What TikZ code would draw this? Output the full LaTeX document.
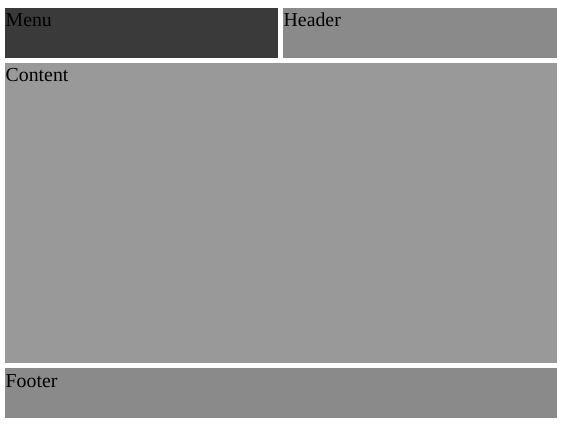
\documentclass[tikz,border=0pt]{standalone}
\usepackage{fontspec}
\setmainfont{Liberation Serif}
\usepackage{tikz}
\definecolor{menugray}{HTML}{3A3A3A}
\definecolor{headgray}{HTML}{8A8A8A}
\definecolor{bodygray}{HTML}{999999}

\begin{document}
\begin{tikzpicture}[x=1pt,y=-1pt,
    label/.style={inner sep=0pt, anchor=base west, font=\fontsize{19.8}{22}\selectfont}]
    \useasboundingbox (0,0) rectangle (562,425);
    % panels
    \fill[menugray] (5,8) rectangle (278,58);
    \fill[headgray] (283,8) rectangle (557,58);
    \fill[bodygray] (5,63) rectangle (557,363);
    \fill[headgray] (5,368) rectangle (557,418);
    % texts
    \node[label] (menu)    at (5.5,27)  {Menu};
    \node[label] (header)  at (283.5,27) {Header};
    \node[label] (content) at (5.5,82)  {Content};
    \node[label] (footer)  at (5.5,387) {Footer};
  \end{tikzpicture}
\end{document}
